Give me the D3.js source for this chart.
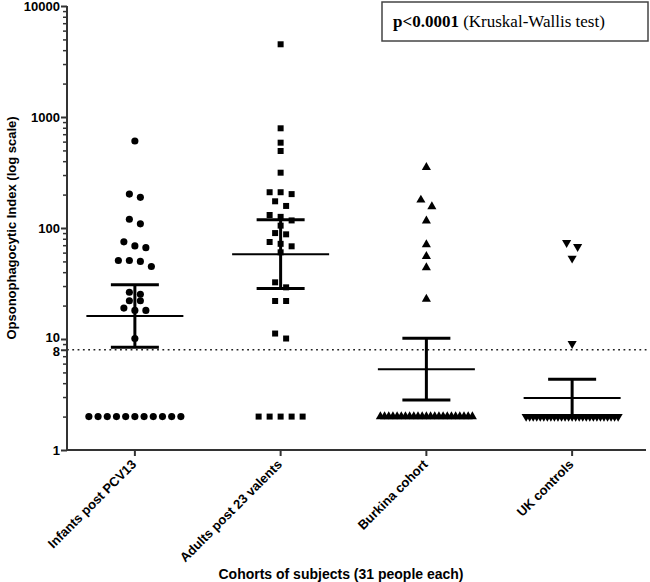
<!DOCTYPE html>
<html>
<head>
<meta charset="utf-8">
<script src="https://cdn.jsdelivr.net/npm/d3@7"></script>
<style>
  html, body { margin: 0; padding: 0; background: #fff; }
  svg { display: block; }
</style>
</head>
<body>
<svg id="chart" width="650" height="582"></svg>
<script>
// ---------------- data ----------------
const categories = ["Infants post PCV13", "Adults post 23 valents", "Burkina cohort", "UK controls"];

const infantsPCV13 = [608, 202, 189, 120, 109, 75, 69, 66.5, 51, 51, 50, 45, 26.4, 25.3, 22.1, 22.1,
  19, 18.1, 18.1, 10.1, 2, 2, 2, 2, 2, 2, 2, 2, 2, 2, 2];
const adults23Valent = [4520, 791, 587, 494, 315, 210, 202, 210, 174, 158, 131, 126, 117, 105, 90, 87.7,
  74.8, 72, 68.4, 60.4, 32.4, 29.2, 22, 22, 11.2, 10.1, 2, 2, 2, 2, 2];
const burkinaCohort = [352, 179, 156, 116, 71, 55.6, 44, 22.9, 2, 2, 2, 2, 2, 2, 2, 2, 2, 2, 2, 2,
  2, 2, 2, 2, 2, 2, 2, 2, 2, 2, 2];
const ukControls = [73.7, 67.9, 53.3, 9.07, 2, 2, 2, 2, 2, 2, 2, 2, 2, 2, 2, 2, 2, 2, 2, 2,
  2, 2, 2, 2, 2, 2, 2, 2, 2, 2, 2];

const seriesValues = [infantsPCV13, adults23Valent, burkinaCohort, ukControls];
const yTickValues = [1, 8, 10, 100, 1000, 10000];
const yMinorTicks = [2, 3, 4, 5, 6, 7, 9, 20, 30, 40, 50, 60, 70, 80, 90, 200, 300, 400, 500, 600, 700, 800, 900,
  2000, 3000, 4000, 5000, 6000, 7000, 8000, 9000];
const thresholdValue = 8;
const tCritical = 2.042; // df = 30, 95% CI
const statText = ["p<0.0001", " (Kruskal-Wallis test)"];
const yTitle = "Opsonophagocytic Index (log scale)";
const xTitle = "Cohorts of subjects (31 people each)";

// ---------------- chart ----------------
const svg = d3.select("#chart");
const axisX0 = 67, axisX1 = 646, axisY = 450;
const sans = "Arial, 'Liberation Sans', sans-serif";
const serif = "'Times New Roman', 'Liberation Serif', serif";

const y = d3.scaleLog().domain([1, 10000]).range([axisY, 6]);
const x = d3.scaleBand().domain(categories).range([62, 645]);

// threshold dotted line
svg.append("line")
  .attr("x1", axisX0).attr("x2", 648)
  .attr("y1", y(thresholdValue)).attr("y2", y(thresholdValue))
  .attr("stroke", "#222").attr("stroke-width", 1.6)
  .attr("stroke-dasharray", "1.8,3.5");

// y axis minor ticks
const gMinor = svg.append("g").attr("transform", `translate(${axisX0},0)`)
  .call(d3.axisLeft(y).tickValues(yMinorTicks).tickSize(4).tickFormat(""));
gMinor.select(".domain").remove();
gMinor.selectAll("line").attr("stroke", "#333").attr("stroke-width", 1.5);

// y axis major
const gy = svg.append("g").attr("transform", `translate(${axisX0},0)`)
  .call(d3.axisLeft(y).tickValues(yTickValues).tickSize(6).tickPadding(1).tickFormat(d3.format("d")));
gy.select(".domain").attr("stroke", "#333").attr("stroke-width", 2)
  .attr("d", `M0,${axisY}V${y(10000)}`);
gy.selectAll(".tick line").attr("stroke", "#333").attr("stroke-width", 2);
gy.selectAll(".tick text").attr("font-family", sans).attr("font-weight", "bold")
  .attr("font-size", 13).attr("fill", "#000")
  .attr("dy", d => d === 10 ? "0.22em" : d === 8 ? "0.45em" : "0.32em");

// x axis
const gx = svg.append("g").attr("transform", `translate(0,${axisY})`)
  .call(d3.axisBottom(x).tickSize(6).tickSizeOuter(0));
gx.select(".domain").attr("stroke", "#333").attr("stroke-width", 2)
  .attr("d", `M${axisX0},0H${axisX1}`);
gx.selectAll(".tick line").attr("stroke", "#333").attr("stroke-width", 2);
gx.selectAll(".tick text")
  .attr("font-family", sans).attr("font-weight", "bold").attr("font-size", 13).attr("fill", "#000")
  .attr("text-anchor", "end")
  .attr("transform", "translate(-1,12) rotate(-45)")
  .attr("y", 0).attr("x", 0).attr("dy", "0.35em");

// titles
svg.append("text")
  .attr("transform", `translate(11,${(axisY + 6) / 2}) rotate(-90)`)
  .attr("text-anchor", "middle").attr("dy", "0.35em")
  .attr("font-family", sans).attr("font-weight", "bold").attr("font-size", 13)
  .text(yTitle);
svg.append("text")
  .attr("x", 341).attr("y", 579)
  .attr("text-anchor", "middle")
  .attr("font-family", sans).attr("font-weight", "bold").attr("font-size", 14)
  .text(xTitle);

// beeswarm layout
function swarm(values, center) {
  const pts = values.map(v => ({ v, y: y(v) })).sort((a, b) => a.y - b.y);
  const rows = [];
  pts.forEach(p => {
    const row = rows[rows.length - 1];
    if (row && p.y - row[0].y < 7) row.push(p); else rows.push([p]);
  });
  rows.forEach(row => {
    const n = row.length;
    const step = n > 1 ? Math.min(11, 92 / (n - 1)) : 0;
    row.forEach((p, i) => { p.x = center + (i - (n - 1) / 2) * step; });
  });
  return pts;
}

const symbolTypes = [d3.symbolCircle, d3.symbolSquare, d3.symbolTriangle, d3.symbolTriangle];
const symbolSizes = [40, 36, 36, 36];

categories.forEach((cat, gi) => {
  const cx = x(cat) + x.bandwidth() / 2;
  const vals = seriesValues[gi];
  const pts = swarm(vals, cx);
  const sym = d3.symbol().type(symbolTypes[gi]).size(symbolSizes[gi]);
  svg.append("g").selectAll("path").data(pts).join("path")
    .attr("d", sym)
    .attr("transform", d => `translate(${d.x},${d.y})` + (gi === 3 ? " rotate(180)" : ""))
    .attr("fill", "#000");

  // geometric mean with 95% CI
  const logs = vals.map(v => Math.log10(v));
  const m = d3.mean(logs);
  const sd = d3.deviation(logs);
  const half = tCritical * sd / Math.sqrt(logs.length);
  const gm = Math.pow(10, m), lo = Math.pow(10, m - half), hi = Math.pow(10, m + half);
  const g = svg.append("g").attr("stroke", "#000");
  g.append("line").attr("x1", cx).attr("x2", cx).attr("y1", y(lo)).attr("y2", y(hi)).attr("stroke-width", 3);
  g.append("line").attr("x1", cx - 24).attr("x2", cx + 24).attr("y1", y(lo)).attr("y2", y(lo)).attr("stroke-width", 3);
  g.append("line").attr("x1", cx - 24).attr("x2", cx + 24).attr("y1", y(hi)).attr("y2", y(hi)).attr("stroke-width", 3);
  g.append("line").attr("x1", cx - 48.5).attr("x2", cx + 48.5).attr("y1", y(gm)).attr("y2", y(gm)).attr("stroke-width", 2);
});

// stat box
svg.append("rect").attr("x", 382).attr("y", 2).attr("width", 266).attr("height", 39)
  .attr("fill", "#fff").attr("stroke", "#444").attr("stroke-width", 1.5);
const st = svg.append("text").attr("x", 393).attr("y", 27)
  .attr("font-family", serif).attr("font-size", 17).attr("fill", "#000");
st.append("tspan").attr("font-weight", "bold").text(statText[0]);
st.append("tspan").text(statText[1]);
</script>
</body>
</html>
